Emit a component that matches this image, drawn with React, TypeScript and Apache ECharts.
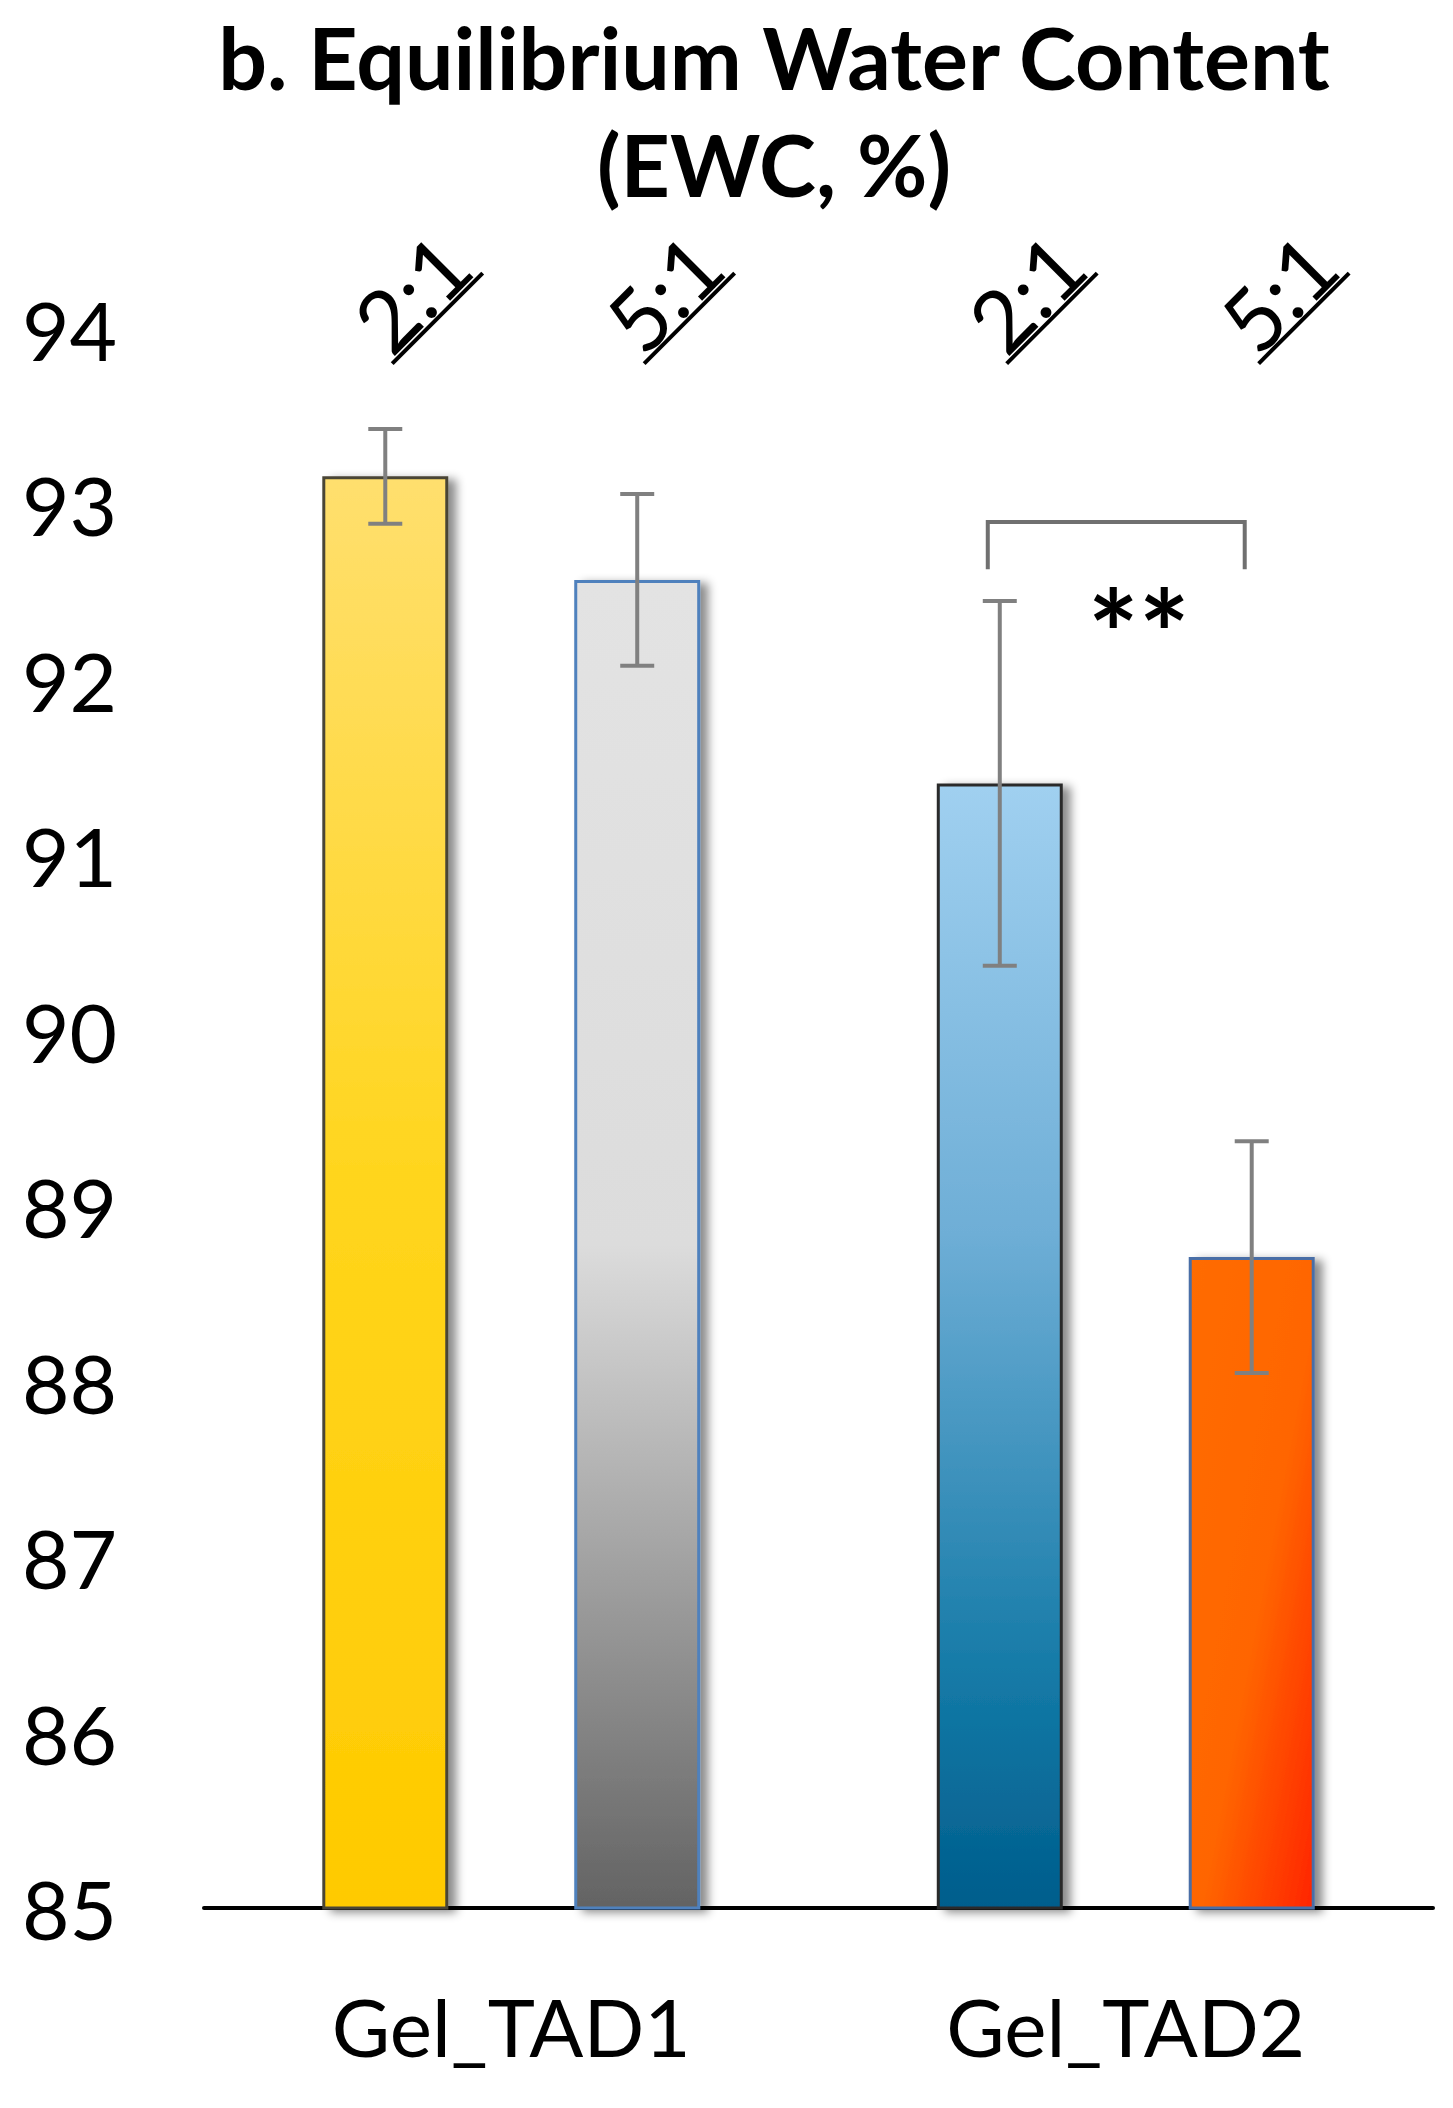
import { useEffect, useRef } from "react";
import * as echarts from "echarts";

// EWC (%), mean and error per gel and crosslinker ratio
const GROUPS = ["Gel_TAD1", "Gel_TAD2"];
const RATIOS = ["2:1", "5:1"];
const EWC_2TO1 = [93.16, 91.41];
const EWC_5TO1 = [92.57, 88.71];
const ERR_2TO1 = [0.27, 1.04];
const ERR_5TO1 = [0.49, 0.66];

const Y_MIN = 85;
const Y_MAX = 94;
const Y_STEP = 1;

// where the rotated ratio labels sit, in axis units
const RATIO_LABEL_LEVEL = 94.21;

// significance marker between the two Gel_TAD2 bars
const SIG_GROUP = 1;
const SIG_BRACKET_TOP = 92.9;
const SIG_BRACKET_FOOT = 92.63;
const SIG_STAR_LEVEL = 92.27;
const SIG_TEXT = "**";

const FONT = "Lato, 'Open Sans', 'DejaVu Sans', sans-serif";
const BAR_RATIO = 0.205;
const ERR_COLOR = "#808080";

const vertical = (stops: [number, string][]) =>
  new echarts.graphic.LinearGradient(0, 0, 0, 1, stops.map(([offset, color]) => ({ offset, color })));

const diagonal = (stops: [number, string][]) =>
  new echarts.graphic.LinearGradient(0, 0, 1, 1, stops.map(([offset, color]) => ({ offset, color })));

const shadow = {
  shadowBlur: 10,
  shadowOffsetX: 8,
  shadowOffsetY: 3,
  shadowColor: "rgba(0, 0, 0, 0.45)"
};

const STYLE_2TO1 = [
  {
    color: vertical([[0, "#ffdf6e"], [0.5, "#ffd51c"], [1, "#ffca00"]]),
    borderColor: "#4a4536",
    borderWidth: 3,
    ...shadow
  },
  {
    color: vertical([[0, "#a0d0f0"], [0.4, "#6eaed6"], [0.8, "#1379a6"], [1, "#005d8c"]]),
    borderColor: "#2a2a2a",
    borderWidth: 3,
    ...shadow
  }
];

const STYLE_5TO1 = [
  {
    color: vertical([[0, "#e3e3e3"], [0.5, "#dcdcdc"], [1, "#636363"]]),
    borderColor: "#4f81bd",
    borderWidth: 3,
    ...shadow
  },
  {
    color: diagonal([[0, "#ff6c00"], [0.55, "#ff6500"], [1, "#ff2400"]]),
    borderColor: "#4a6ea6",
    borderWidth: 3,
    ...shadow
  }
];

const barOffset = (api: any, ratioIndex: number) => {
  const band = api.size([1, 0])[0];
  return (ratioIndex === 0 ? -1 : 1) * band * BAR_RATIO;
};

function buildOption() {
  const errorData = GROUPS.flatMap((_, g) => [
    [g, EWC_2TO1[g], ERR_2TO1[g], 0],
    [g, EWC_5TO1[g], ERR_5TO1[g], 1]
  ]);
  const labelData = GROUPS.flatMap((_, g) => RATIOS.map((__, r) => [g, RATIO_LABEL_LEVEL, r]));

  return {
    animation: false,
    backgroundColor: "#ffffff",
    title: {
      text: "b. Equilibrium Water Content\n(EWC, %)",
      left: 769,
      top: -2,
      textAlign: "center",
      textStyle: {
        fontFamily: FONT,
        fontWeight: "bold",
        fontSize: 86,
        lineHeight: 107,
        color: "#000000"
      }
    },
    grid: { left: 204, right: 20, top: 329, bottom: 200 },
    xAxis: {
      type: "category",
      data: GROUPS,
      axisLine: { show: true, lineStyle: { color: "#000000", width: 4 } },
      axisTick: { show: false },
      axisLabel: {
        margin: 118,
        verticalAlign: "middle",
        fontFamily: FONT,
        fontSize: 80,
        color: "#000000"
      }
    },
    yAxis: {
      type: "value",
      min: Y_MIN,
      max: Y_MAX,
      interval: Y_STEP,
      axisLine: { show: false },
      axisTick: { show: false },
      splitLine: { show: false },
      axisLabel: {
        margin: 87,
        verticalAlign: "middle",
        padding: [24, 0, 0, 0],
        fontFamily: FONT,
        fontSize: 82,
        color: "#000000"
      }
    },
    series: [
      {
        name: RATIOS[0],
        type: "bar",
        barWidth: `${BAR_RATIO * 100}%`,
        barGap: "100%",
        data: EWC_2TO1.map((value, i) => ({ value, itemStyle: STYLE_2TO1[i] }))
      },
      {
        name: RATIOS[1],
        type: "bar",
        barWidth: `${BAR_RATIO * 100}%`,
        barGap: "100%",
        data: EWC_5TO1.map((value, i) => ({ value, itemStyle: STYLE_5TO1[i] }))
      },
      {
        type: "custom",
        name: "error",
        z: 5,
        clip: false,
        encode: { x: 0, y: 1 },
        data: errorData,
        renderItem: (_params: any, api: any) => {
          const g = api.value(0);
          const mean = api.value(1);
          const err = api.value(2);
          const dx = barOffset(api, api.value(3));
          const hi = api.coord([g, mean + err]);
          const lo = api.coord([g, mean - err]);
          const x = hi[0] + dx;
          const cap = 17;
          const style = { stroke: ERR_COLOR, lineWidth: 4 };
          return {
            type: "group",
            children: [
              { type: "line", shape: { x1: x, y1: hi[1], x2: x, y2: lo[1] }, style },
              { type: "line", shape: { x1: x - cap, y1: hi[1], x2: x + cap, y2: hi[1] }, style },
              { type: "line", shape: { x1: x - cap, y1: lo[1], x2: x + cap, y2: lo[1] }, style }
            ]
          };
        }
      },
      {
        type: "custom",
        name: "ratio labels",
        z: 5,
        clip: false,
        silent: true,
        encode: { x: 0, y: 1 },
        data: labelData,
        renderItem: (_params: any, api: any) => {
          const g = api.value(0);
          const r = api.value(2);
          const p = api.coord([g, api.value(1)]);
          const x = p[0] + barOffset(api, r) + 26;
          return {
            type: "group",
            x,
            y: p[1],
            rotation: Math.PI / 4,
            children: [
              {
                type: "text",
                style: {
                  text: RATIOS[r],
                  x: 0,
                  y: 0,
                  align: "center",
                  verticalAlign: "middle",
                  fontFamily: FONT,
                  fontSize: 86,
                  fill: "#000000"
                }
              },
              {
                type: "line",
                shape: { x1: -64, y1: 37, x2: 64, y2: 37 },
                style: { stroke: "#000000", lineWidth: 4 }
              }
            ]
          };
        }
      },
      {
        type: "custom",
        name: "significance",
        z: 5,
        clip: false,
        silent: true,
        encode: { x: 0, y: 1 },
        data: [[SIG_GROUP, SIG_BRACKET_TOP, SIG_BRACKET_FOOT, SIG_STAR_LEVEL]],
        renderItem: (_params: any, api: any) => {
          const g = api.value(0);
          const top = api.coord([g, api.value(1)]);
          const foot = api.coord([g, api.value(2)]);
          const star = api.coord([g, api.value(3)]);
          const x1 = top[0] + barOffset(api, 0) - 12;
          const x2 = top[0] + barOffset(api, 1) - 7;
          return {
            type: "group",
            children: [
              {
                type: "polyline",
                shape: { points: [[x1, foot[1]], [x1, top[1]], [x2, top[1]], [x2, foot[1]]] },
                style: { stroke: "#707070", lineWidth: 4, fill: "none" }
              },
              {
                type: "text",
                style: {
                  text: SIG_TEXT,
                  x: star[0] + 13,
                  y: star[1],
                  align: "center",
                  verticalAlign: "middle",
                  fontFamily: FONT,
                  fontWeight: "bold",
                  fontSize: 120,
                  fill: "#000000",
                  shadowBlur: 4,
                  shadowOffsetX: 3,
                  shadowOffsetY: 3,
                  shadowColor: "rgba(0, 0, 0, 0.35)"
                }
              }
            ]
          };
        }
      }
    ]
  };
}

export default function App() {
  const hostRef = useRef<HTMLDivElement>(null);

  useEffect(() => {
    document.body.style.margin = "0";
    const host = hostRef.current;
    if (host === null) return;
    const chart = echarts.init(host, undefined, { renderer: "svg" });
    chart.setOption(buildOption());
    return () => {
      chart.dispose();
    };
  }, []);

  return <div ref={hostRef} style={{ width: 1453, height: 2108 }} />;
}
